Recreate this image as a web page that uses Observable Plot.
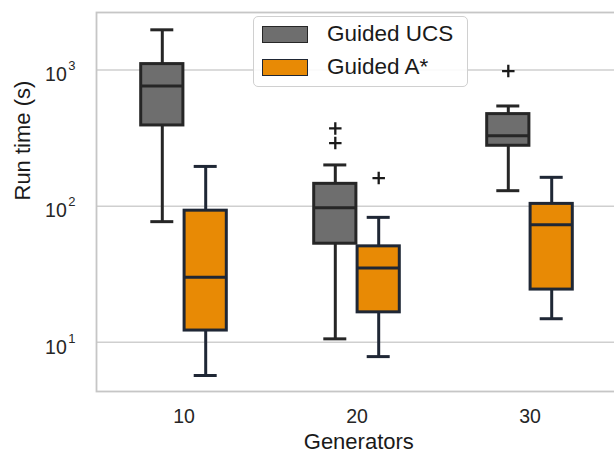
<!DOCTYPE html>
<html>
<head>
<meta charset="utf-8">
<script src="https://cdn.jsdelivr.net/npm/d3@7"></script>
<script src="https://cdn.jsdelivr.net/npm/@observablehq/plot@0.6"></script>
<style>
  html, body { margin: 0; padding: 0; background: white; }
  #chart { position: relative; width: 614px; height: 454px; overflow: hidden; font-family: "Liberation Sans", Arial, sans-serif; }
  .lg { position: absolute; box-sizing: border-box; }
  .lgtext { position: absolute; font-size: 22.5px; line-height: 26px; color: #1a1a1a; white-space: nowrap; }
</style>
</head>
<body>
<div id="chart"></div>
<script>
// ---- data ----
const generators = ["10", "20", "30"];
const algorithms = ["Guided UCS", "Guided A*"];

const ucsLow  = [77, 10.6, 130];
const ucsQ1   = [392, 53, 278];
const ucsMed  = [763, 97.5, 330];
const ucsQ3   = [1107, 146, 475];
const ucsHigh = [1977, 201, 545];
const ucsOutlierGen = ["20", "20", "30"];
const ucsOutlierVal = [373, 291, 984];

const astarLow  = [5.7, 7.85, 14.9];
const astarQ1   = [12.2, 16.6, 24.4];
const astarMed  = [30, 35.2, 73];
const astarQ3   = [92.7, 50.7, 104];
const astarHigh = [196, 82.8, 163];
const astarOutlierGen = ["20"];
const astarOutlierVal = [161];

const yTicks = [10, 100, 1000];
const yTickLabels = ["10¹", "10²", "10³"];

// ---- build tables ----
function boxRows(low, q1, med, q3, high) {
  return generators.map((g, i) => ({g, low: low[i], q1: q1[i], med: med[i], q3: q3[i], high: high[i]}));
}
function outRows(gs, vs) { return gs.map((g, i) => ({g, v: vs[i]})); }

const series = [
  {name: algorithms[0], rows: boxRows(ucsLow, ucsQ1, ucsMed, ucsQ3, ucsHigh), out: outRows(ucsOutlierGen, ucsOutlierVal),
   dx: -21.7, fill: "#6e6e6e", stroke: "#262626"},
  {name: algorithms[1], rows: boxRows(astarLow, astarQ1, astarMed, astarQ3, astarHigh), out: outRows(astarOutlierGen, astarOutlierVal),
   dx: 21.7, fill: "#e88a05", stroke: "#1f2735"}
];

const boxInset = 65.4, capInset = 75, lw = 3;

const marks = [
  Plot.ruleY(yTicks, {stroke: "#cfcfcf", strokeWidth: 1.5}),
  Plot.frame({stroke: "#c6c6c6", strokeWidth: 1.8})
];
for (const s of series) {
  marks.push(
    Plot.ruleX(s.rows, {x: "g", y1: "low", y2: "high", dx: s.dx, stroke: s.stroke, strokeWidth: lw}),
    Plot.tickY(s.rows, {x: "g", y: "low", dx: s.dx, insetLeft: capInset, insetRight: capInset, stroke: s.stroke, strokeWidth: lw}),
    Plot.tickY(s.rows, {x: "g", y: "high", dx: s.dx, insetLeft: capInset, insetRight: capInset, stroke: s.stroke, strokeWidth: lw}),
    Plot.barY(s.rows, {x: "g", y1: "q1", y2: "q3", dx: s.dx, insetLeft: boxInset, insetRight: boxInset, fill: s.fill, stroke: s.stroke, strokeWidth: lw}),
    Plot.tickY(s.rows, {x: "g", y: "med", dx: s.dx, insetLeft: boxInset, insetRight: boxInset, stroke: s.stroke, strokeWidth: lw}),
    Plot.dot(s.out, {x: "g", y: "v", dx: s.dx, symbol: "plus", r: 4.1, stroke: "#1a1a1a", strokeWidth: 2.3, fill: "none"})
  );
}
marks.push(
  Plot.text(["Generators"], {text: d => d, frameAnchor: "bottom", dx: 2, dy: 57, fontSize: 22, fill: "#1a1a1a"}),
  Plot.text(["Run time (s)"], {text: d => d, frameAnchor: "left", dx: -74, dy: -1.5, rotate: -90, fontSize: 22, fill: "#1a1a1a"})
);

const plot = Plot.plot({
  width: 614,
  height: 454,
  marginLeft: 96,
  marginRight: -2.6,
  marginTop: 12,
  marginBottom: 63,
  style: {fontFamily: '"Liberation Sans", Arial, sans-serif', fontSize: "18px", color: "#262626", background: "white"},
  x: {domain: generators, padding: 0, tickSize: 0, tickPadding: 18, label: null},
  y: {type: "log", domain: [4.35, 2650], ticks: yTicks, tickSize: 0, tickPadding: 21, label: null,
      tickFormat: d => { const i = yTicks.indexOf(d); return i >= 0 ? yTickLabels[i] : ""; }},
  marks
});

const chart = document.getElementById("chart");
chart.appendChild(plot);

// tick label font: force size/family on tick texts (the ones not drawn by the text marks)
plot.querySelectorAll("text").forEach(t => {
  const s = t.textContent;
  if (generators.includes(s) || yTickLabels.includes(s)) {
    t.setAttribute("font-size", "19.5");
    t.style.fontSize = "19.5px";
    t.style.fontFamily = '"Liberation Sans", Arial, sans-serif';
    t.style.fill = "#262626";
  }
});

// render superscripts as real raised text
plot.querySelectorAll("text").forEach(t => {
  const m = /^10([¹²³])$/.exec(t.textContent);
  if (!m) return;
  const sup = {"¹": "1", "²": "2", "³": "3"}[m[1]];
  t.textContent = "10";
  const ts = document.createElementNS("http://www.w3.org/2000/svg", "tspan");
  ts.setAttribute("dy", "-11");
  ts.setAttribute("dx", "1.5");
  ts.setAttribute("font-size", "13");
  ts.style.fontSize = "13px";
  ts.textContent = sup;
  t.appendChild(ts);
  const tr = t.getAttribute("transform");
  t.setAttribute("transform", (tr ? tr + " " : "") + "translate(0,5)");
});

// legend overlay
function add(html, style, cls) {
  const d = document.createElement("div");
  d.className = cls;
  Object.assign(d.style, style);
  d.textContent = html;
  chart.appendChild(d);
}
add("", {left: "253px", top: "16px", width: "215px", height: "71px", border: "1.5px solid #d0d0d0", borderRadius: "5px", background: "rgba(255,255,255,0.88)"}, "lg");
add("", {left: "262px", top: "26px", width: "46px", height: "17px", background: series[0].fill, border: "1.6px solid " + series[0].stroke}, "lg");
add("", {left: "262px", top: "58.5px", width: "46px", height: "17px", background: series[1].fill, border: "1.6px solid " + series[1].stroke}, "lg");
add(algorithms[0], {left: "327px", top: "21px"}, "lgtext");
add(algorithms[1], {left: "327px", top: "53.5px"}, "lgtext");
</script>
</body>
</html>
